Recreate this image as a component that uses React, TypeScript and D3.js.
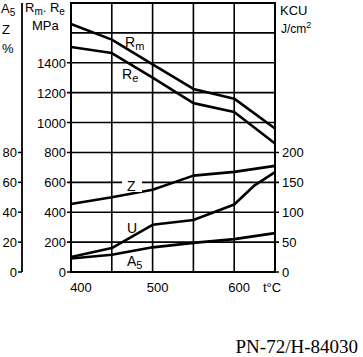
import React from "react";
import * as d3 from "d3";

const temps = [400, 450, 500, 550, 600, 650];
const rmMPa = [1660, 1555, 1390, 1225, 1160, 960];
const reMPa = [1505, 1465, 1300, 1130, 1070, 860];
const zPct = [45.5, 50, 55, 64.5, 67, 71];
const uTemps = [400, 450, 500, 550, 600, 625, 650];
const uKCU = [25, 40, 79, 87, 113, 145, 167];
const a5Pct = [9, 11.5, 16.5, 19.5, 22, 26];

const mpaTicks = [0, 200, 400, 600, 800, 1000, 1200, 1400];
const pctTicks = [0, 20, 40, 60, 80];
const kcuTicks = [0, 50, 100, 150, 200];
const tTicks = [400, 500, 600];
const gridX = [400, 450, 500, 550, 600, 650];
const gridY = [0, 200, 400, 600, 800, 1000, 1200, 1400, 1600, 1800];

const W = 363, H = 357;
const L = 71, R = 275, T = 3, B = 272;

export default function App() {
  const x = d3.scaleLinear().domain([400, 650]).range([L, R]);
  const yM = d3.scaleLinear().domain([0, 1800]).range([B, T]);
  const yP = d3.scaleLinear().domain([0, 180]).range([B, T]);
  const yK = d3.scaleLinear().domain([0, 450]).range([B, T]);

  const mk = (xs: number[], vals: number[], y: d3.ScaleLinear<number, number>) =>
    d3.line<number>().x((_, i) => x(xs[i])).y((v) => y(v))(vals) || "";

  const sans = "'Liberation Sans', Arial, sans-serif";
  const lineStyle = { fill: "none", stroke: "#000", strokeWidth: 2.6, strokeLinejoin: "round" as const };

  return (
    <svg width={W} height={H} style={{ position: "absolute", left: 0, top: 0, background: "#fff" }}
      fontFamily={sans}>
      <rect x={0} y={0} width={W} height={H} fill="#fff" />
      {/* grid */}
      {gridX.map((t) => (
        <line key={"gx" + t} x1={x(t)} x2={x(t)} y1={yM(0)} y2={yM(1800)} stroke="#000" strokeWidth={1.6} />
      ))}
      {gridY.map((v) => (
        <line key={"gy" + v} x1={x(400) - (v <= 1400 ? 4 : 0)} x2={x(650) + (v <= 800 ? 4 : 0)}
          y1={yM(v)} y2={yM(v)} stroke="#000" strokeWidth={1.6} />
      ))}
      <rect x={L} y={T} width={R - L} height={B - T} fill="none" stroke="#000" strokeWidth={2} />

      {/* percent axis */}
      <line x1={22} x2={22} y1={yP(0)} y2={T} stroke="#000" strokeWidth={1.8} />
      {pctTicks.map((v) => (
        <g key={"p" + v}>
          <line x1={18} x2={22} y1={yP(v)} y2={yP(v)} stroke="#000" strokeWidth={1.5} />
          <text x={17} y={yP(v) + 5} textAnchor="end" fontSize={13}>{v}</text>
        </g>
      ))}
      <text x={1} y={13} fontSize={13}>A<tspan fontSize={10} dy={3}>5</tspan></text>
      <text x={2} y={34} fontSize={13}>Z</text>
      <text x={2} y={53} fontSize={13}>%</text>

      {/* MPa axis */}
      {mpaTicks.map((v) => (
        <text key={"m" + v} x={66} y={yM(v) + 5} textAnchor="end" fontSize={13}>{v}</text>
      ))}
      <text x={25} y={12} fontSize={13}>R<tspan fontSize={10} dy={3}>m</tspan><tspan dy={-3}>. R</tspan><tspan fontSize={10} dy={3}>e</tspan></text>
      <text x={32} y={30} fontSize={13}>MPa</text>

      {/* KCU axis */}
      {kcuTicks.map((v) => (
        <text key={"k" + v} x={282} y={yK(v) + 5} fontSize={13}>{v}</text>
      ))}
      <text x={280} y={15} fontSize={13}>KCU</text>
      <text x={281} y={33} fontSize={12}>J/cm<tspan fontSize={9} dy={-5}>2</tspan></text>

      {/* x axis labels */}
      {tTicks.map((t) => (
        <text key={"t" + t} x={x(t) + (t === 400 ? 10 : 5)} y={292} textAnchor="middle" fontSize={13}>{t}</text>
      ))}
      <text x={272} y={292} textAnchor="middle" fontSize={13}>t°C</text>

      {/* data lines */}
      <path d={mk(temps, rmMPa, yM)} {...lineStyle} />
      <path d={mk(temps, reMPa, yM)} {...lineStyle} />
      <path d={mk(temps, zPct, yP)} {...lineStyle} />
      <path d={mk(uTemps, uKCU, yK)} {...lineStyle} />
      <path d={mk(temps, a5Pct, yP)} {...lineStyle} />

      {/* series labels */}
      <text x={125} y={47} fontSize={14}>R<tspan fontSize={11} dy={3}>m</tspan></text>
      <text x={122} y={79} fontSize={14}>R<tspan fontSize={11} dy={3}>e</tspan></text>
      <rect x={122} y={176} width={20} height={16} fill="#fff" />
      <text x={127} y={191} fontSize={14}>Z</text>
      <text x={127} y={233} fontSize={14}>U</text>
      <text x={127} y={266} fontSize={14}>A<tspan fontSize={11} dy={3}>5</tspan></text>

      <text x={358} y={353} textAnchor="end" fontSize={19} fontFamily="'Liberation Serif', 'Times New Roman', serif">PN-72/H-84030</text>
    </svg>
  );
}
